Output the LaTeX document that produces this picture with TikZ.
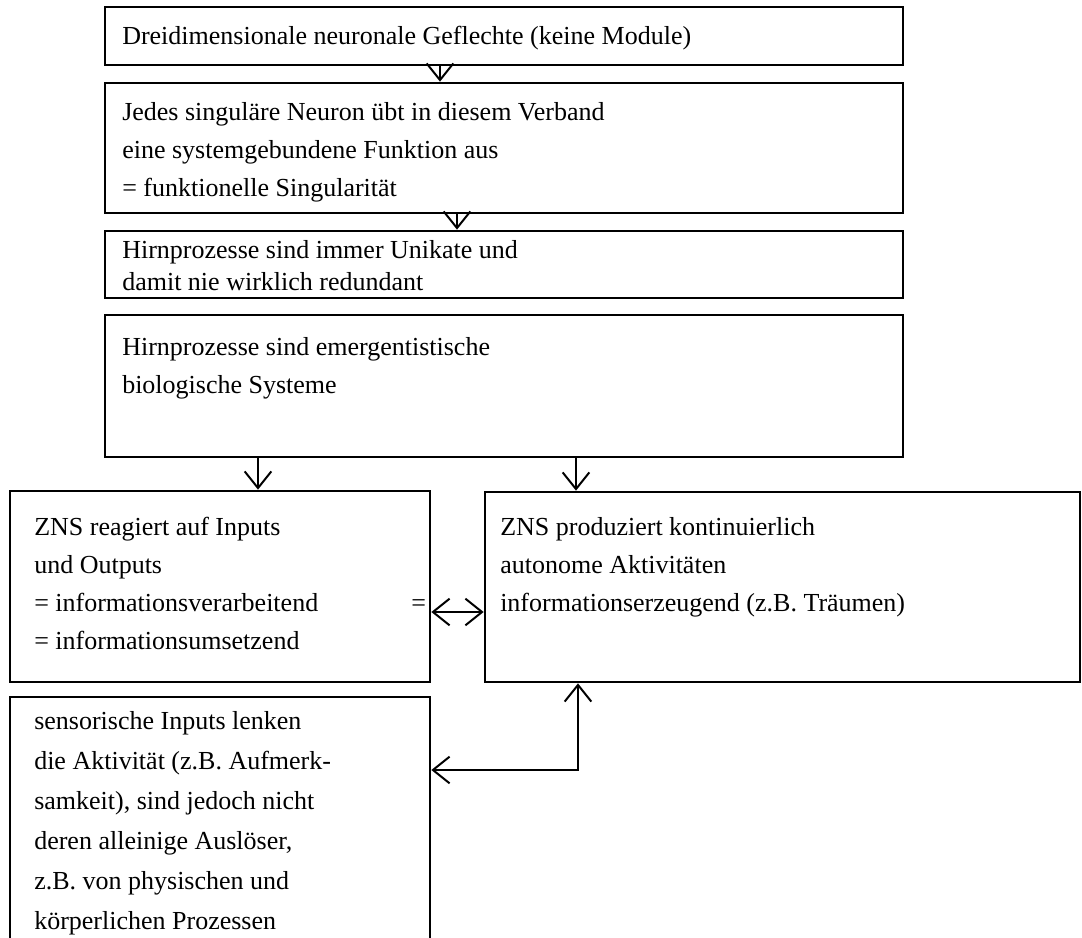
\documentclass[tikz,border=0pt]{standalone}
\usepackage{fontspec}
\setmainfont{Liberation Serif}
\usetikzlibrary{arrows.meta,fit}
\begin{document}
\begin{tikzpicture}[x=0.75pt,y=-0.75pt,
  box/.style={draw,line width=2pt,inner sep=0pt},
  txt/.style={anchor=base west,inner sep=0pt,align=left,font=\fontsize{19.5}{28.5}\selectfont},
  >={Straight Barb[length=12.5pt,width=20pt,line width=1.5pt]},
  conn/.style={line width=1.5pt,->},
  dconn/.style={line width=1.5pt,<->},
]
\clip (0,0) rectangle (1082,938);
\fill[white] (0,0) rectangle (1082,938);
% boxes
\node[box,fit={(105,7) (903,65)}] (b1) {};
\node[box,fit={(105,83) (903,213)}] (b2) {};
\node[box,fit={(105,231) (903,298)}] (b3) {};
\node[box,fit={(105,315) (903,457)}] (b4) {};
\node[box,fit={(10,491) (430,682)}] (b5) {};
\node[box,fit={(485,492) (1080,682)}] (b6) {};
\node[box,fit={(10,697) (430,980)}] (b7) {};
% texts (anchor = baseline of last line)
\node[txt] (t1) at (122,45) {Dreidimensionale neuronale Geflechte (keine Module)};
\node[txt] (t2) at (122,197) {Jedes singuläre Neuron übt in diesem Verband\\eine systemgebundene Funktion aus\\= funktionelle Singularität};
\node[txt,font=\fontsize{19.5}{24}\selectfont] (t3) at (122,290) {Hirnprozesse sind immer Unikate und\\damit nie wirklich redundant};
\node[txt] (t4) at (122,393) {Hirnprozesse sind emergentistische\\biologische Systeme};
\node[txt] (t5) at (34,649) {ZNS reagiert auf Inputs\\und Outputs\\= informationsverarbeitend\\= informationsumsetzend};
\node[txt] (t5b) at (411,611) {=};
\node[txt] (t6) at (500,611) {ZNS produziert kontinuierlich\\autonome Aktivitäten\\informationserzeugend (z.B. Träumen)};
\node[txt,font=\fontsize{19.5}{30}\selectfont] (t7) at (34,929) {sensorische Inputs lenken\\die Aktivität (z.B. Aufmerk-\\samkeit), sind jedoch nicht\\deren alleinige Auslöser,\\z.B. von physischen und\\körperlichen Prozessen};
% connector positions
\coordinate (xa) at (440,0);
\coordinate (xb) at (457,0);
\coordinate (xc) at (258,0);
\coordinate (xd) at (576,0);
\coordinate (xe) at (578,0);
\coordinate (ya) at (0,612);
\coordinate (yb) at (0,770);
% connectors
\draw[conn] (b1.south -| xa) -- (b2.north -| xa);
\draw[conn] (b2.south -| xb) -- (b3.north -| xb);
\draw[conn] (b4.south -| xc) -- (b5.north -| xc);
\draw[conn] (b4.south -| xd) -- (b6.north -| xd);
\draw[dconn] (b5.east |- ya) -- (b6.west |- ya);
\draw[dconn] (b6.south -| xe) |- (b7.east |- yb);
\end{tikzpicture}
\end{document}
